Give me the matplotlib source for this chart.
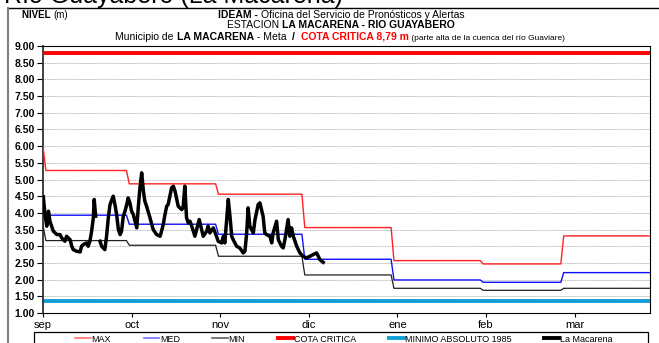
import numpy as np
import matplotlib
matplotlib.use('Agg')
import matplotlib.pyplot as plt
from matplotlib.patches import Rectangle
from matplotlib.lines import Line2D

plt.rcParams['font.family'] = ['Liberation Sans', 'DejaVu Sans']

# meses de la temporada sep-mar
meses = ['sep', 'oct', 'nov', 'dic', 'ene', 'feb', 'mar']
dias_mes = [30, 31, 30, 31, 31, 28, 31]

# niveles historicos mensuales (m)
nivel_max = [5.27, 4.87, 4.56, 3.56, 2.57, 2.47, 3.31]
nivel_med = [3.93, 3.66, 3.36, 2.61, 1.99, 1.92, 2.21]
nivel_min = [3.17, 3.03, 2.70, 2.14, 1.74, 1.68, 1.74]
max_dia1 = 6.00
min_dia1 = 3.62
cota_critica = 8.79
minimo_1985 = 1.37

# niveles observados en La Macarena (dia desde 1 sep, nivel en m)
dias_obs = [0.1, 0.7, 1.3, 1.9, 2.4, 3.0, 3.6, 4.8, 5.9, 6.5, 7.6, 8.2, 9.4, 10.0,
            10.5, 11.7, 12.9, 13.4, 14.0, 15.2, 15.7, 16.3, 16.9, 17.5, 17.8, 18.3,
            19.0,
            19.8, 20.4, 21.5, 22.1, 22.7, 23.3, 24.4, 25.0, 25.6, 26.2, 26.8, 27.3,
            27.9, 28.5, 29.1, 29.6, 30.2, 30.8, 31.4, 32.0, 32.6, 33.1, 33.7, 34.3,
            34.9, 35.4, 36.0, 37.2, 38.3, 39.5, 40.7, 41.2, 41.8, 42.4, 43.0, 43.5,
            44.1, 44.7, 45.3, 45.9, 46.5, 47.0, 48.2, 48.7, 49.3, 49.9, 50.5, 51.1,
            51.7, 52.8, 53.4, 54.3, 55.7, 56.9, 57.4, 58.0, 59.2, 60.3, 60.9, 62.1,
            62.7, 63.2, 64.4, 65.0, 65.6, 66.1, 67.3, 68.4, 69.6, 70.2, 70.8, 71.3,
            71.9, 72.5, 73.1, 73.7, 74.8, 75.4, 76.5, 77.1, 77.7, 78.9, 79.5, 80.0,
            81.2, 81.8, 82.9, 83.5, 84.1, 85.2, 85.8, 86.4, 87.0, 88.2, 89.3, 90.4,
            91.6, 92.8, 93.9, 95.1, 95.7, 96.2, 97.4]
nivel_obs = [4.48, 3.95, 3.60, 4.05, 3.75, 3.60, 3.45, 3.35, 3.35, 3.25, 3.15, 3.30,
             3.20, 3.00, 2.90, 2.85, 2.83, 3.00, 3.05, 3.10, 3.00, 3.15, 3.45, 3.85,
             4.40, 3.90,
             np.nan,
             3.15, 3.00, 2.90, 3.30, 3.85, 4.25, 4.50, 4.25, 3.95, 3.50, 3.35, 3.45,
             3.90, 4.05, 4.25, 4.45, 4.30, 4.05, 3.95, 3.75, 3.55, 4.15, 4.75, 5.20,
             4.65, 4.35, 4.20, 3.85, 3.50, 3.35, 3.30, 3.45, 3.65, 3.95, 4.20, 4.25,
             4.50, 4.75, 4.80, 4.65, 4.40, 4.20, 4.10, 4.15, 4.80, 3.85, 3.70, 3.75,
             3.60, 3.30, 3.50, 3.80, 3.30, 3.45, 3.60, 3.40, 3.55, 3.30, 3.15, 3.10,
             3.30, 3.10, 4.40, 3.90, 3.30, 3.20, 3.00, 2.95, 2.80, 2.85, 3.40, 4.15,
             3.60, 3.50, 3.40, 3.80, 4.25, 4.30, 3.90, 3.40, 3.35, 3.30, 3.10, 3.40,
             3.75, 3.20, 3.00, 2.95, 3.20, 3.80, 3.30, 3.55, 3.30, 3.00, 2.80, 2.70,
             2.65, 2.70, 2.75, 2.80, 2.70, 2.60, 2.52]


def serie_diaria(mensual, primer_dia=None):
    y = np.repeat(mensual, dias_mes).astype(float)
    y = np.append(y, y[-1])
    if primer_dia is not None:
        y[0] = primer_dia
    return y


dias = np.arange(sum(dias_mes) + 1)

fig = plt.figure(figsize=(6.59, 3.43), dpi=100)
ax = fig.add_axes([43 / 659, 1 - 313 / 343, 607 / 659, 267 / 343])

yticks = np.arange(1.0, 9.01, 0.5)
for v in yticks[1:-1]:
    ax.axhline(v, color='#9a9a9a', lw=0.6, ls=(0, (1, 1)), zorder=0)

ax.axhline(minimo_1985, color='#139fd6', lw=2.8, zorder=2)
ax.plot(dias, serie_diaria(nivel_max, max_dia1), color='#ff2020', lw=1.0, zorder=3)
ax.plot(dias, serie_diaria(nivel_med), color='#1010ff', lw=1.0, zorder=3)
ax.plot(dias, serie_diaria(nivel_min, min_dia1), color='#202020', lw=0.9, zorder=3)
ax.axhline(cota_critica, color='#ff0000', lw=2.8, zorder=3)
ax.plot(dias_obs, nivel_obs, color='black', lw=2.5, zorder=4,
        solid_joinstyle='round')

ax.set_xlim(0, 211)
ax.set_ylim(1, 9)
ax.set_yticks(yticks)
ax.set_yticklabels([f'{v:.2f}' for v in yticks], fontsize=7.5, fontweight='bold')
ax.set_xticks(np.arange(len(meses)) * 30.8)
ax.set_xticklabels(meses, fontsize=8)
ax.tick_params(axis='y', length=4, width=0.8, pad=2)
ax.tick_params(axis='x', length=3, width=0.8, pad=2)
for s in ax.spines.values():
    s.set_linewidth(0.8)
ax.spines['left'].set_linewidth(1.3)
ax.spines['left'].set_color('#303030')


def linea_mixta(piezas, x, y_top_px, ha='center'):
    y = 1 - y_top_px / 343
    textos = []
    for txt, estilo in piezas:
        t = fig.text(0, 0, txt, ha='left', va='bottom', **estilo)
        t.set_transform(matplotlib.transforms.IdentityTransform())
        textos.append(t)
    fig.canvas.draw()
    r = fig.canvas.get_renderer()
    anchos = [t.get_window_extent(r).width for t in textos]
    total = sum(anchos)
    x0 = x * fig.bbox.width - (total / 2 if ha == 'center' else 0)
    y_px = y * fig.bbox.height
    pos = x0
    for t, w in zip(textos, anchos):
        t.set_position((pos, y_px))
        pos += w


normal = dict(fontsize=7.5)
negrita = dict(fontsize=7.5, fontweight='bold')

linea_mixta([('NIVEL ', dict(fontsize=7, fontweight='bold')), ('(m)', dict(fontsize=7))],
            22 / 659, 20.5, ha='left')
linea_mixta([('IDEAM - ', negrita),
             ('Oficina del Servicio de Pronósticos y Alertas', normal)],
            341 / 659, 20.5)
linea_mixta([('ESTACION ', normal), ('LA MACARENA - RIO GUAYABERO', negrita)],
            341 / 659, 30.5)
linea_mixta([('Municipio de ', normal), ('LA MACARENA', negrita),
             (' - Meta  ', normal), ('/  ', negrita),
             ('COTA CRITICA 8,79 m', dict(fontsize=7.5, fontweight='bold', color='#ff0000')),
             (' (parte alta de la cuenca del río Guaviare)', dict(fontsize=6))],
            340 / 659, 41.5)

fig.text(4 / 659, 1 - 2.5 / 343, 'Río Guayabero (La Macarena)', fontsize=18,
         ha='left', va='baseline')

# marco general
fig.add_artist(Line2D([7.5 / 659, 1], [1 - 8 / 343] * 2, color='black', lw=1.0))
fig.add_artist(Line2D([7.5 / 659] * 2, [0, 1 - 8 / 343], color='#808080', lw=1.5))

# leyenda inferior
handles = [Line2D([], [], color='#ff7070', lw=1.2),
           Line2D([], [], color='#7070ff', lw=1.2),
           Line2D([], [], color='#606060', lw=1.2),
           Line2D([], [], color='#ff0000', lw=2.8),
           Line2D([], [], color='#139fd6', lw=2.8),
           Line2D([], [], color='black', lw=2.8)]
labels = ['MAX', 'MED', 'MIN', 'COTA CRITICA', 'MINIMO ABSOLUTO 1985', 'La Macarena']
fig.legend(handles, labels, ncol=6, loc='upper center',
           bbox_to_anchor=(344 / 659, 1 - 331 / 343), frameon=False, fontsize=6.5,
           handlelength=1.7, handletextpad=0.1, columnspacing=3.6, borderaxespad=0)
fig.add_artist(Rectangle((34 / 659, -0.05), 614 / 659, 11 / 343 + 0.05,
                         transform=fig.transFigure, fill=False, edgecolor='black',
                         lw=0.9))

fig.savefig('out.png', dpi=100)
